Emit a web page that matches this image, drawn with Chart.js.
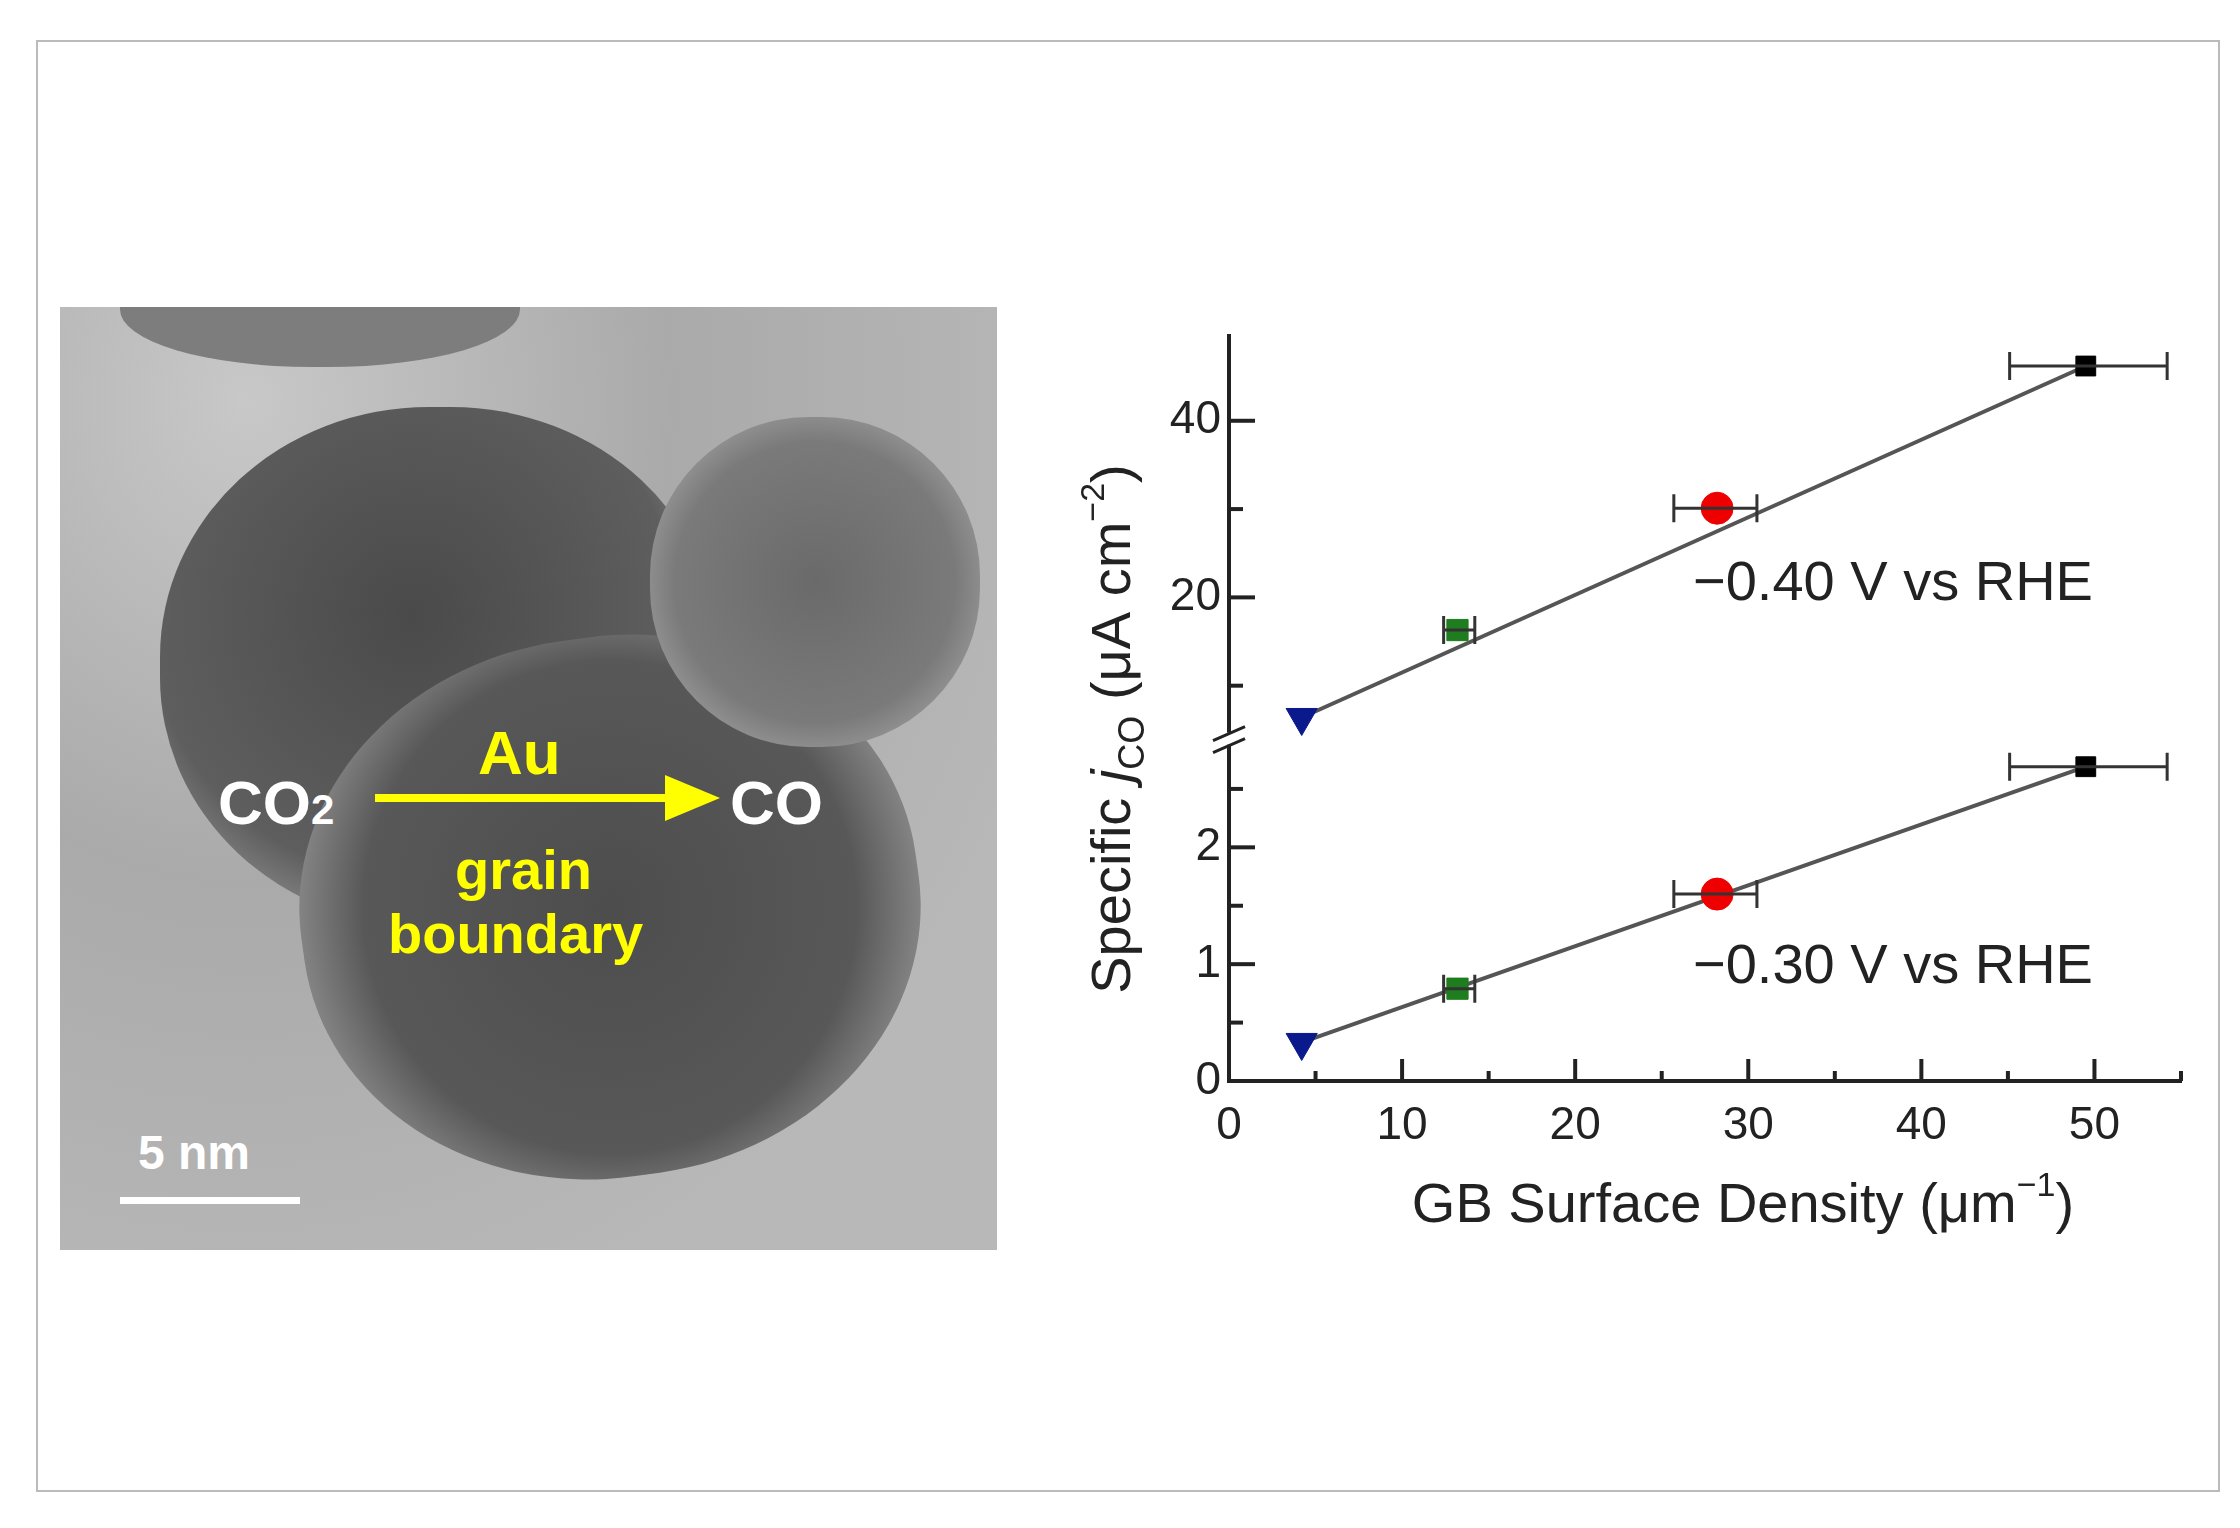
<!DOCTYPE html>
<html>
<head>
<meta charset="utf-8">
<script src="https://cdn.jsdelivr.net/npm/chart.js@4.4.1/dist/chart.umd.min.js"></script>
<style>
  body { margin: 0; background: #fff; width: 2240px; height: 1528px; position: relative; font-family: "Liberation Sans", Arial, sans-serif; }
  #frame { position: absolute; left: 36px; top: 40px; width: 2180px; height: 1448px; border: 2px solid #bbb; }
  #photo { position: absolute; left: 60px; top: 307px; width: 937px; height: 943px; overflow: hidden;
    background: radial-gradient(ellipse at 20% 10%, #c8c8c8 0%, #aaa 40%, #b8b8b8 80%); }
  .blob { position: absolute; border-radius: 48%; }
  .lbl { position: absolute; font-weight: bold; font-size: 62px; }
  #wrap { position: absolute; left: 1000px; top: 280px; width: 1200px; height: 1000px; }
</style>
</head>
<body>
<div id="frame"></div>
<div id="photo">
  <div class="blob" style="left:100px;top:100px;width:560px;height:520px;background:radial-gradient(circle at 45% 40%,#4a4a4a,#5e5e5e 60%,#8a8a8a 75%,#b5b5b5 100%);"></div>
  <div class="blob" style="left:240px;top:330px;width:620px;height:540px;background:radial-gradient(circle at 50% 50%,#4d4d4d,#585858 60%,#8a8a8a 78%,#b5b5b5 100%);transform:rotate(-8deg);"></div>
  <div class="blob" style="left:590px;top:110px;width:330px;height:330px;background:radial-gradient(circle,#6a6a6a,#7a7a7a 60%,#a5a5a5 85%,#bbb 100%);"></div>
  <div class="blob" style="left:60px;top:-60px;width:400px;height:120px;background:#7d7d7d;"></div>
  <div class="lbl" style="left:158px;top:460px;color:#fff;">CO<span style="font-size:42px;">2</span></div>
  <div class="lbl" style="left:418px;top:410px;color:#ffff00;">Au</div>
  <div style="position:absolute;left:315px;top:487px;width:300px;height:8px;background:#ffff00;"></div>
  <div style="position:absolute;left:605px;top:468px;width:0;height:0;border-top:23px solid transparent;border-bottom:23px solid transparent;border-left:55px solid #ffff00;"></div>
  <div class="lbl" style="left:670px;top:460px;color:#fff;">CO</div>
  <div class="lbl" style="left:395px;top:530px;color:#ffff00;font-size:56px;">grain</div>
  <div class="lbl" style="left:328px;top:594px;color:#ffff00;font-size:56px;">boundary</div>
  <div class="lbl" style="left:78px;top:818px;color:#fff;font-size:48px;">5 nm</div>
  <div style="position:absolute;left:60px;top:890px;width:180px;height:7px;background:#fff;"></div>
</div>
<div id="wrap"><canvas id="myChart" width="1200" height="1000"></canvas></div>
<script>
// data
var gbDensity = [4.2, 13.2, 28.2, 49.5];
var xErrLow = [4.2, 12.4, 25.7, 45.1];
var xErrHigh = [4.2, 14.2, 30.5, 54.2];
var jco040 = [6.4, 16.3, 30.1, 46.2];
var jco030 = [0.33, 0.79, 1.6, 2.69];
var fitX = [4.2, 49.5];
var fit040 = [6.4, 46.2];
var fit030 = [0.33, 2.69];
var markerColors = ['#0a1a8c', '#1e7d1e', '#ee0000', '#000000'];
var markerStyles = ['triangle', 'rect', 'circle', 'rect'];
var xTicks = [0, 10, 20, 30, 40, 50];
var upperTicks = [20, 40];
var lowerTicks = [0, 1, 2];

function pts(ys) {
    return gbDensity.map(function (x, i) { return { x: x, y: ys[i] }; });
}
function fitPts(ys) {
    return fitX.map(function (x, i) { return { x: x, y: ys[i] }; });
}

var font = '"Liberation Sans", Arial, sans-serif';

// error bars, inward ticks, labels, break marks, titles
var decorations = {
    id: 'decorations',
    afterDatasetsDraw: function (chart) {
        var ctx = chart.ctx;
        var xs = chart.scales.x;
        ctx.save();
        ctx.strokeStyle = '#333';
        ctx.lineWidth = 3;
        // error bars
        [['yUp', jco040], ['yLow', jco030]].forEach(function (p) {
            var ys = chart.scales[p[0]];
            gbDensity.forEach(function (x, i) {
                if (xErrHigh[i] - xErrLow[i] < 0.1) return;
                var y = ys.getPixelForValue(p[1][i]);
                var a = xs.getPixelForValue(xErrLow[i]), b = xs.getPixelForValue(xErrHigh[i]);
                ctx.beginPath();
                ctx.moveTo(a, y); ctx.lineTo(b, y);
                ctx.moveTo(a, y - 14); ctx.lineTo(a, y + 14);
                ctx.moveTo(b, y - 14); ctx.lineTo(b, y + 14);
                ctx.stroke();
            });
        });
        ctx.restore();
    },
    afterDraw: function (chart) {
        var ctx = chart.ctx;
        var xs = chart.scales.x, yu = chart.scales.yUp, yl = chart.scales.yLow;
        var ca = chart.chartArea;
        ctx.save();
        ctx.strokeStyle = '#222';
        ctx.fillStyle = '#222';
        ctx.lineWidth = 4;
        // x ticks (inward)
        for (var v = 0; v <= 55; v += 5) {
            var px = xs.getPixelForValue(v);
            ctx.beginPath();
            ctx.moveTo(px, ca.bottom);
            ctx.lineTo(px, ca.bottom - (v % 10 === 0 ? 22 : 10));
            ctx.stroke();
        }
        // y ticks (inward)
        [[yu, [10, 20, 30, 40], upperTicks], [yl, [0.5, 1, 1.5, 2, 2.5], lowerTicks]].forEach(function (s) {
            s[1].forEach(function (v) {
                var py = s[0].getPixelForValue(v);
                ctx.beginPath();
                ctx.moveTo(ca.left, py);
                ctx.lineTo(ca.left + (s[2].indexOf(v) >= 0 ? 26 : 14), py);
                ctx.stroke();
            });
        });
        // tick labels
        ctx.font = '46px ' + font;
        ctx.textAlign = 'center';
        ctx.textBaseline = 'top';
        xTicks.forEach(function (v) {
            ctx.fillText(String(v), xs.getPixelForValue(v), ca.bottom + 22);
        });
        ctx.textAlign = 'right';
        ctx.textBaseline = 'middle';
        upperTicks.forEach(function (v) { ctx.fillText(String(v), ca.left - 8, yu.getPixelForValue(v)); });
        lowerTicks.forEach(function (v) { ctx.fillText(String(v), ca.left - 8, yl.getPixelForValue(v)); });
        // axis break
        var by = yl.top;
        ctx.fillStyle = '#fff';
        ctx.fillRect(ca.left - 14, by - 6, 28, 12);
        ctx.lineWidth = 3;
        ctx.strokeStyle = '#222';
        ctx.beginPath();
        ctx.moveTo(ca.left - 16, by + 2); ctx.lineTo(ca.left + 16, by - 12);
        ctx.moveTo(ca.left - 16, by + 14); ctx.lineTo(ca.left + 16, by);
        ctx.stroke();
        // annotations
        ctx.fillStyle = '#222';
        ctx.font = '56px ' + font;
        ctx.textAlign = 'left';
        ctx.textBaseline = 'alphabetic';
        ctx.fillText('\u22120.40 V vs RHE', 693, 320);
        ctx.fillText('\u22120.30 V vs RHE', 693, 703);
        // x title
        var xt = ['GB Surface Density (\u03bcm', '\u22121', ')'];
        ctx.font = '56px ' + font;
        var w0 = ctx.measureText(xt[0]).width;
        ctx.font = '34px ' + font;
        var w1 = ctx.measureText(xt[1]).width;
        ctx.font = '56px ' + font;
        var w2 = ctx.measureText(xt[2]).width;
        var x0 = 743 - (w0 + w1 + w2) / 2, base = 942;
        ctx.fillText(xt[0], x0, base);
        ctx.font = '34px ' + font;
        ctx.fillText(xt[1], x0 + w0, base - 26);
        ctx.font = '56px ' + font;
        ctx.fillText(xt[2], x0 + w0 + w1, base);
        // y title, rotated
        ctx.translate(110, 449);
        ctx.rotate(-Math.PI / 2);
        var parts = [
            ['Specific ', '56px ', 0], ['j', 'italic 56px ', 0], ['CO', '36px ', 14],
            [' (\u03bcA cm', '56px ', 0], ['\u22122', '34px ', -26], [')', '56px ', 0]
        ];
        var tot = 0;
        parts.forEach(function (p) { ctx.font = p[1] + font; tot += ctx.measureText(p[0]).width; });
        var cx = -tot / 2;
        parts.forEach(function (p) {
            ctx.font = p[1] + font;
            ctx.fillText(p[0], cx, 20 + p[2]);
            cx += ctx.measureText(p[0]).width;
        });
        ctx.restore();
    }
};

function scatterSet(ys, axis) {
    return {
        type: 'scatter',
        data: pts(ys),
        yAxisID: axis,
        pointStyle: markerStyles,
        pointRadius: [18, 15, 16, 14],
        pointBackgroundColor: markerColors,
        pointBorderColor: markerColors,
        pointRotation: [180, 0, 0, 0],
        showLine: false,
        order: 0
    };
}
function lineSet(ys, axis) {
    return {
        type: 'line',
        data: fitPts(ys),
        yAxisID: axis,
        borderColor: '#555',
        borderWidth: 4,
        pointRadius: 0,
        order: 1
    };
}

var myChart = new Chart(document.getElementById('myChart'), {
    type: 'scatter',
    data: {
        datasets: [
            lineSet(fit040, 'yUp'), lineSet(fit030, 'yLow'),
            scatterSet(jco040, 'yUp'), scatterSet(jco030, 'yLow')
        ]
    },
    options: {
        responsive: false,
        animation: false,
        devicePixelRatio: 1,
        layout: { padding: { left: 221, top: 56, right: 14, bottom: 191 } },
        plugins: { legend: { display: false }, tooltip: { enabled: false } },
        scales: {
            x: {
                type: 'linear', min: 0, max: 55,
                grid: { display: false },
                border: { color: '#222', width: 4 },
                ticks: { display: false }
            },
            yLow: {
                type: 'linear', position: 'left', min: 0, max: 2.93,
                stack: 'jco', stackWeight: 346,
                grid: { display: false },
                border: { color: '#222', width: 4 },
                ticks: { display: false }
            },
            yUp: {
                type: 'linear', position: 'left', min: 4, max: 49.6,
                stack: 'jco', stackWeight: 407,
                grid: { display: false },
                border: { color: '#222', width: 4 },
                ticks: { display: false }
            }
        }
    },
    plugins: [decorations]
});
</script>
</body>
</html>
